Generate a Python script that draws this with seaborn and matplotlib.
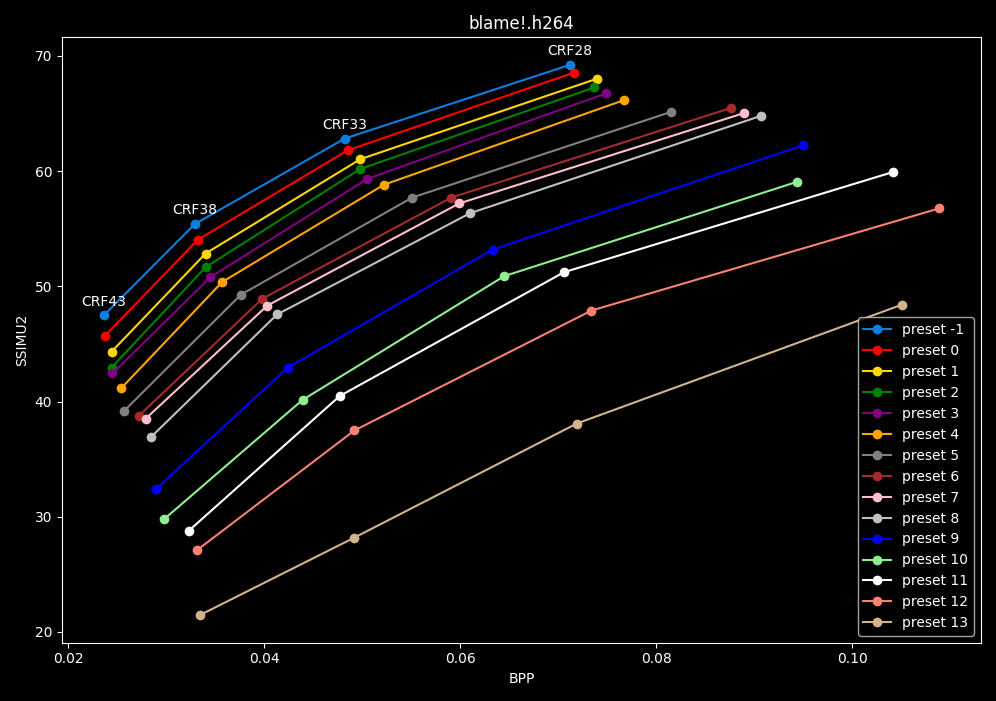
import matplotlib
matplotlib.use("Agg")
import matplotlib.pyplot as plt
import seaborn as sns
import pandas as pd

plt.style.use("dark_background")

presets = [-1, 0, 1, 2, 3, 4, 5, 6, 7, 8, 9, 10, 11, 12, 13]
crf_labels = ["CRF43", "CRF38", "CRF33", "CRF28"]
colors = ["#0a7fe0", "red", "gold", "green", "purple", "orange", "gray", "brown",
          "pink", "silver", "blue", "lightgreen", "white", "salmon", "tan"]

bpp = [
    [0.0236, 0.0329, 0.0482, 0.0712],
    [0.0237, 0.0332, 0.0485, 0.0716],
    [0.0244, 0.0340, 0.0498, 0.0740],
    [0.0244, 0.0340, 0.0498, 0.0737],
    [0.0245, 0.0345, 0.0505, 0.0749],
    [0.0254, 0.0357, 0.0522, 0.0767],
    [0.0257, 0.0376, 0.0551, 0.0815],
    [0.0272, 0.0398, 0.0591, 0.0876],
    [0.0279, 0.0403, 0.0599, 0.0890],
    [0.0284, 0.0413, 0.0610, 0.0907],
    [0.0289, 0.0424, 0.0633, 0.0950],
    [0.0298, 0.0439, 0.0645, 0.0944],
    [0.0323, 0.0477, 0.0706, 0.1042],
    [0.0331, 0.0492, 0.0734, 0.1089],
    [0.0334, 0.0492, 0.0719, 0.1051],
]
ssimu2 = [
    [47.47, 55.41, 62.83, 69.23],
    [45.68, 54.04, 61.81, 68.55],
    [44.32, 52.85, 61.04, 68.04],
    [42.95, 51.66, 60.19, 67.27],
    [42.44, 50.80, 59.33, 66.76],
    [41.16, 50.38, 58.82, 66.16],
    [39.20, 49.27, 57.71, 65.14],
    [38.77, 48.93, 57.71, 65.48],
    [38.52, 48.33, 57.20, 65.05],
    [36.89, 47.56, 56.35, 64.80],
    [32.37, 42.95, 53.19, 62.24],
    [29.81, 40.14, 50.89, 59.08],
    [28.79, 40.48, 51.23, 59.93],
    [27.08, 37.49, 47.90, 56.77],
    [21.45, 28.19, 38.09, 48.41],
]

rows = []
for p, xs, ys in zip(presets, bpp, ssimu2):
    for x, y in zip(xs, ys):
        rows.append({"preset": f"preset {p}", "BPP": x, "SSIMU2": y})
df = pd.DataFrame(rows)

fig, ax = plt.subplots(figsize=(9.96, 7.01), dpi=100)
sns.lineplot(data=df, x="BPP", y="SSIMU2", hue="preset", palette=colors,
             marker="o", markersize=7, markeredgewidth=0, sort=False,
             estimator=None, linewidth=1.5, ax=ax)

for lab, x, y in zip(crf_labels, bpp[0], ssimu2[0]):
    ax.annotate(lab, (x, y), textcoords="offset points", xytext=(0, 7),
                ha="center", color="white", fontsize=10)

ax.set_title("blame!.h264")
ax.legend(loc="lower right", fontsize=10)
plt.tight_layout()
fig.savefig("out.png", dpi=100)
